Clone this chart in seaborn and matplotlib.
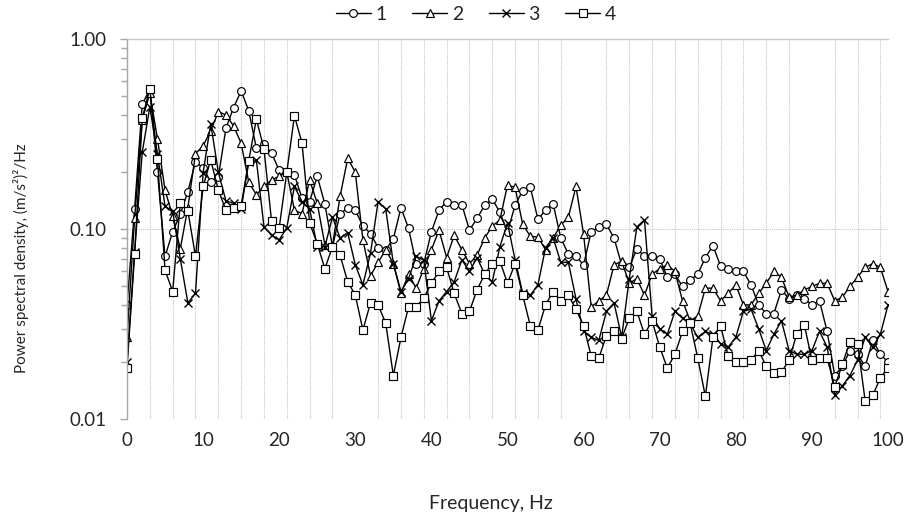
import numpy as np
import pandas as pd
import matplotlib
matplotlib.use("Agg")
import matplotlib.pyplot as plt
from matplotlib.ticker import LogLocator, FixedLocator, FuncFormatter, NullFormatter
import seaborn as sns

freq = list(range(0, 101))

s1 = [0.040, 0.128, 0.455, 0.545, 0.20, 0.072, 0.097, 0.12, 0.158, 0.227,
      0.21, 0.178, 0.188, 0.34, 0.437, 0.535, 0.42, 0.267, 0.28, 0.252,
      0.204, 0.2, 0.193, 0.146, 0.14, 0.19, 0.136, 0.081, 0.121, 0.129,
      0.126, 0.104, 0.095, 0.08, 0.078, 0.089, 0.13, 0.101, 0.066, 0.066,
      0.097, 0.126, 0.14, 0.134, 0.135, 0.099, 0.114, 0.134, 0.144, 0.123,
      0.097, 0.134, 0.16, 0.166, 0.113, 0.126, 0.136, 0.09, 0.074, 0.072,
      0.065, 0.097, 0.103, 0.106, 0.09, 0.065, 0.063, 0.079, 0.072, 0.072,
      0.07, 0.056, 0.058, 0.05, 0.054, 0.058, 0.071, 0.082, 0.064, 0.062,
      0.06, 0.06, 0.051, 0.04, 0.036, 0.036, 0.048, 0.043, 0.045, 0.043,
      0.04, 0.042, 0.029, 0.017, 0.019, 0.023, 0.022, 0.019, 0.026, 0.022,
      0.020]

s2 = [0.027, 0.114, 0.376, 0.52, 0.30, 0.161, 0.117, 0.079, 0.13, 0.25,
      0.275, 0.33, 0.416, 0.40, 0.35, 0.284, 0.177, 0.152, 0.168, 0.182,
      0.19, 0.2, 0.126, 0.121, 0.182, 0.137, 0.083, 0.082, 0.149, 0.236,
      0.2, 0.088, 0.057, 0.067, 0.078, 0.066, 0.046, 0.058, 0.049, 0.062,
      0.078, 0.099, 0.071, 0.093, 0.078, 0.066, 0.073, 0.09, 0.104, 0.112,
      0.171, 0.166, 0.106, 0.092, 0.091, 0.078, 0.09, 0.105, 0.116, 0.168,
      0.094, 0.039, 0.042, 0.045, 0.065, 0.068, 0.052, 0.055, 0.045, 0.058,
      0.062, 0.065, 0.06, 0.042, 0.033, 0.035, 0.049, 0.049, 0.042, 0.046,
      0.051, 0.04, 0.04, 0.046, 0.052, 0.06, 0.056, 0.044, 0.045, 0.048,
      0.05, 0.052, 0.052, 0.042, 0.044, 0.05, 0.056, 0.063, 0.066, 0.063,
      0.047]

s3 = [0.020, 0.076, 0.254, 0.44, 0.25, 0.132, 0.125, 0.07, 0.041, 0.046,
      0.198, 0.36, 0.2, 0.141, 0.137, 0.128, 0.226, 0.231, 0.103, 0.093,
      0.088, 0.102, 0.168, 0.14, 0.128, 0.081, 0.081, 0.116, 0.09, 0.096,
      0.065, 0.051, 0.075, 0.14, 0.128, 0.066, 0.047, 0.055, 0.072, 0.069,
      0.033, 0.042, 0.047, 0.053, 0.069, 0.06, 0.071, 0.058, 0.053, 0.081,
      0.108, 0.069, 0.046, 0.045, 0.051, 0.08, 0.09, 0.067, 0.067, 0.043,
      0.029, 0.027, 0.026, 0.037, 0.041, 0.027, 0.055, 0.103, 0.112, 0.035,
      0.030, 0.028, 0.037, 0.034, 0.032, 0.027, 0.029, 0.028, 0.025, 0.024,
      0.027, 0.037, 0.038, 0.030, 0.023, 0.028, 0.033, 0.023, 0.022, 0.022,
      0.023, 0.029, 0.024, 0.0135, 0.015, 0.017, 0.0205, 0.027, 0.024, 0.028,
      0.04]

s4 = [0.0186, 0.074, 0.384, 0.55, 0.235, 0.061, 0.047, 0.137, 0.125, 0.072,
      0.168, 0.232, 0.161, 0.126, 0.13, 0.133, 0.23, 0.38, 0.265, 0.11,
      0.102, 0.2, 0.396, 0.284, 0.108, 0.084, 0.062, 0.081, 0.073, 0.053,
      0.045, 0.0295, 0.041, 0.040, 0.032, 0.017, 0.027, 0.039, 0.039, 0.0435,
      0.052, 0.06, 0.063, 0.046, 0.036, 0.037, 0.048, 0.058, 0.066, 0.068,
      0.052, 0.066, 0.045, 0.031, 0.0295, 0.040, 0.047, 0.042, 0.045, 0.038,
      0.031, 0.0215, 0.021, 0.0276, 0.029, 0.0266, 0.034, 0.037, 0.028, 0.033,
      0.024, 0.0186, 0.022, 0.029, 0.032, 0.021, 0.0132, 0.027, 0.031, 0.0215,
      0.020, 0.020, 0.0205, 0.023, 0.019, 0.0175, 0.0177, 0.0205, 0.028, 0.0315,
      0.0205, 0.021, 0.021, 0.0148, 0.0195, 0.0256, 0.025, 0.0125, 0.0134, 0.0165,
      0.0187]

series_names = ["1", "2", "3", "4"]
series_markers = ["o", "^", "x", "s"]

sns.set_style("white")
plt.rcParams["font.family"] = ["Lato", "DejaVu Sans"]

fig = plt.figure(figsize=(9.06, 5.18), dpi=100)
ax = fig.add_axes([127 / 906, (518 - 419.3) / 518, (888 - 127) / 906, 380 / 518])

for name, vals, mk in zip(series_names, [s1, s2, s3, s4], series_markers):
    df = pd.DataFrame({"f": freq, "v": vals})
    if mk == "x":
        sns.lineplot(data=df, x="f", y="v", ax=ax, color="black", lw=1.0,
                     marker=mk, markersize=6, markeredgewidth=1.0,
                     markeredgecolor="black", label=name)
    else:
        sns.lineplot(data=df, x="f", y="v", ax=ax, color="black", lw=1.0,
                     marker=mk, markersize=5.6, markeredgewidth=0.85,
                     markerfacecolor="white", markeredgecolor="black", label=name)

ax.set_yscale("log")
ax.set_xlim(0, 100)
ax.set_ylim(0.01, 1.0)

ax.xaxis.set_major_locator(FixedLocator(list(range(0, 101, 10))))
ax.xaxis.set_minor_locator(FixedLocator(list(range(3, 100, 3))))
ax.yaxis.set_major_locator(FixedLocator([0.01, 0.1, 1.0]))
ax.yaxis.set_minor_locator(LogLocator(base=10, subs=np.arange(2, 10)))
ax.yaxis.set_major_formatter(FuncFormatter(lambda v, p: f"{v:.2f}"))
ax.yaxis.set_minor_formatter(NullFormatter())

ax.grid(False)
ax.xaxis.grid(True, which="minor", color="#c4c4c4", linestyle=(0, (1, 1)), lw=0.8)
ax.yaxis.grid(True, which="major", color="#c4c4c4", linestyle=(0, (1, 1)), lw=0.8)

for side in ["right", "bottom"]:
    ax.spines[side].set_visible(False)
ax.spines["left"].set_color("#a6a6a6")
ax.spines["left"].set_linewidth(1.0)
ax.spines["top"].set_color("#c8c8c8")
ax.spines["top"].set_linewidth(1.0)

ax.tick_params(axis="y", which="major", direction="out", length=5, width=1,
               color="#a6a6a6", labelsize=13.5, pad=10, left=True)
ax.tick_params(axis="y", which="minor", direction="out", length=4, width=1,
               color="#a6a6a6", left=True)
ax.tick_params(axis="x", which="both", length=0, labelsize=13.5, pad=9)

ax.set_xlabel("Frequency, Hz", fontsize=14)
ax.xaxis.set_label_coords((491 - 127) / 761, -(504 - 419.3) / 380)
ax.xaxis.label.set_va("center")
ax.set_ylabel("Power spectral density, (m/s²)²/Hz", fontsize=11)
ax.yaxis.set_label_coords(-(127 - 21) / 761, (419.3 - 258) / 380)
ax.yaxis.label.set_va("center")

ax.get_legend().remove()
handles, labels = ax.get_legend_handles_labels()
fig.legend(handles, labels, loc="center", bbox_to_anchor=(476 / 906, 1 - 14 / 518),
           ncol=4, frameon=False, fontsize=14, handlelength=1.8,
           handletextpad=0.25, columnspacing=1.3, numpoints=1)

fig.savefig("out.png", dpi=100, facecolor="white")
